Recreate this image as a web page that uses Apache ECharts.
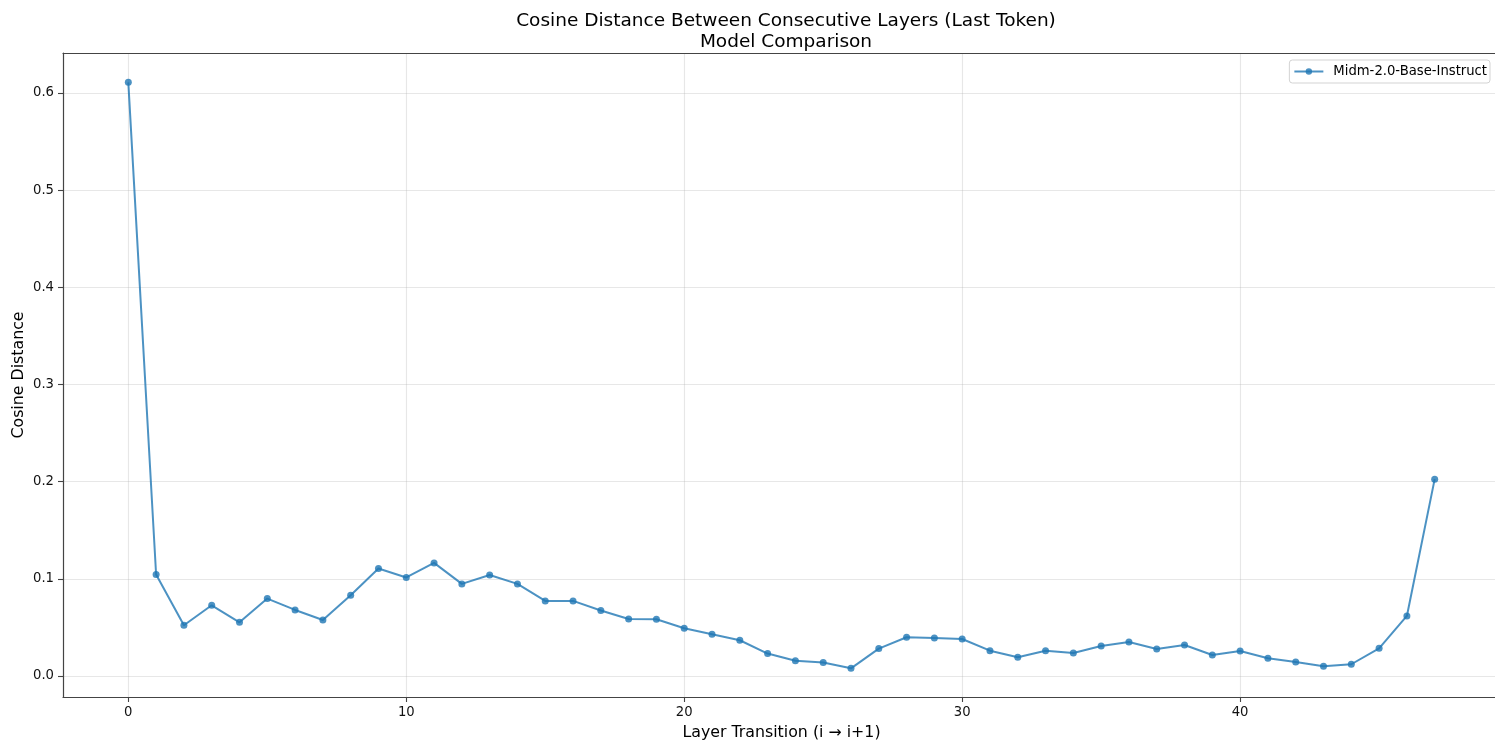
<!DOCTYPE html>
<html>
<head>
<meta charset="utf-8">
<script src="https://cdn.jsdelivr.net/npm/echarts@6/dist/echarts.min.js"></script>
<style>
  html, body { margin: 0; padding: 0; background: #fff; }
  #chart { width: 1495px; height: 741px; }
</style>
</head>
<body>
<div id="chart"></div>
<script>
// Layer transitions i -> i+1
const layers = Array.from({ length: 48 }, (_, i) => i);

// Cosine distance of the last token between consecutive layers
const cosineDistance = [
  0.611, 0.1045, 0.0522, 0.0728, 0.0553, 0.0797, 0.068, 0.0577, 0.0831, 0.1106,
  0.1014, 0.1164, 0.0948, 0.104, 0.0948, 0.0773, 0.0773, 0.0674, 0.0587, 0.0584,
  0.0491, 0.043, 0.0368, 0.0231, 0.0158, 0.0138, 0.0079, 0.0282, 0.0399, 0.0392,
  0.0381, 0.0261, 0.0193, 0.0261, 0.0237, 0.0309, 0.035, 0.0278, 0.0319, 0.0216,
  0.0258, 0.0182, 0.0144, 0.01, 0.0121, 0.0285, 0.0618, 0.2026
];

const xTicks = [0, 10, 20, 30, 40];
const yTicks = [0, 0.1, 0.2, 0.3, 0.4, 0.5, 0.6];

const seriesName = 'Midm-2.0-Base-Instruct';
const titleLines = ['Cosine Distance Between Consecutive Layers (Last Token)', 'Model Comparison'];

const FONT = 'DejaVu Sans';
const lineColor = 'rgba(31,119,180,0.8)';
const spineColor = '#444';
const X_MIN = -2.35, X_MAX = 49.35;
const Y_MIN = -0.0216, Y_MAX = 0.6412;

const chart = echarts.init(document.getElementById('chart'), null, { renderer: 'canvas' });

chart.setOption({
  animation: false,
  backgroundColor: '#ffffff',
  title: {
    text: titleLines.join('\n'),
    left: 781,
    textAlign: 'center',
    top: 6,
    textStyle: { fontFamily: FONT, fontSize: 18.5, fontWeight: 'normal', color: '#000', lineHeight: 20.5 }
  },
  legend: {
    data: [seriesName],
    right: 5,
    top: 60,
    orient: 'vertical',
    itemWidth: 29,
    itemHeight: 8,
    itemGap: 0,
    padding: [5, 3, 5, 4],
    borderColor: '#d3d3d3',
    borderWidth: 1,
    borderRadius: 3,
    backgroundColor: 'rgba(255,255,255,0.8)',
    textStyle: { fontFamily: FONT, fontSize: 13.2, color: '#000', padding: [0, 0, 0, 5] }
  },
  grid: {
    left: 63,
    top: 53,
    width: 1437,
    height: 644,
    containLabel: false,
    outerBoundsMode: 'none'
  },
  xAxis: [{
    type: 'value',
    min: X_MIN,
    max: X_MAX,
    name: 'Layer Transition (i \u2192 i+1)',
    nameLocation: 'middle',
    nameGap: 28,
    nameMoveOverlap: false,
    nameTextStyle: { fontFamily: FONT, fontSize: 15.8, color: '#000' },
    axisLine: { show: true, onZero: false, lineStyle: { color: spineColor, width: 1.2 } },
    axisTick: { show: true, length: 5, lineStyle: { color: spineColor, width: 1.1 }, customValues: xTicks },
    axisLabel: {
      fontFamily: FONT, fontSize: 13.2, color: '#111', margin: 9,
      customValues: xTicks,
      formatter: v => String(v)
    },
    splitLine: { show: true, lineStyle: { color: 'rgba(176,176,176,0.3)', width: 1.1 } }
  }, {
    // top frame line of the plot area
    type: 'value',
    position: 'top',
    min: X_MIN,
    max: X_MAX,
    axisLine: { show: true, onZero: false, lineStyle: { color: spineColor, width: 1.2 } },
    axisTick: { show: false },
    axisLabel: { show: false },
    splitLine: { show: false }
  }],
  yAxis: {
    type: 'value',
    min: Y_MIN,
    max: Y_MAX,
    name: 'Cosine Distance',
    nameLocation: 'middle',
    nameGap: 36,
    nameMoveOverlap: false,
    nameTextStyle: { fontFamily: FONT, fontSize: 15.8, color: '#000' },
    axisLine: { show: true, onZero: false, lineStyle: { color: spineColor, width: 1.2 } },
    axisTick: { show: true, length: 5, lineStyle: { color: spineColor, width: 1.1 }, customValues: yTicks },
    axisLabel: {
      fontFamily: FONT, fontSize: 13.2, color: '#111', margin: 9,
      customValues: yTicks,
      formatter: v => v.toFixed(1)
    },
    splitLine: { show: true, lineStyle: { color: 'rgba(176,176,176,0.3)', width: 1.1 } }
  },
  series: [{
    name: seriesName,
    type: 'line',
    xAxisIndex: 0,
    data: layers.map((x, i) => [x, cosineDistance[i]]),
    symbol: 'circle',
    symbolSize: 7,
    showAllSymbol: true,
    lineStyle: { color: lineColor, width: 2 },
    itemStyle: { color: lineColor, borderWidth: 0 },
    emphasis: { disabled: true }
  }]
});
</script>
</body>
</html>
